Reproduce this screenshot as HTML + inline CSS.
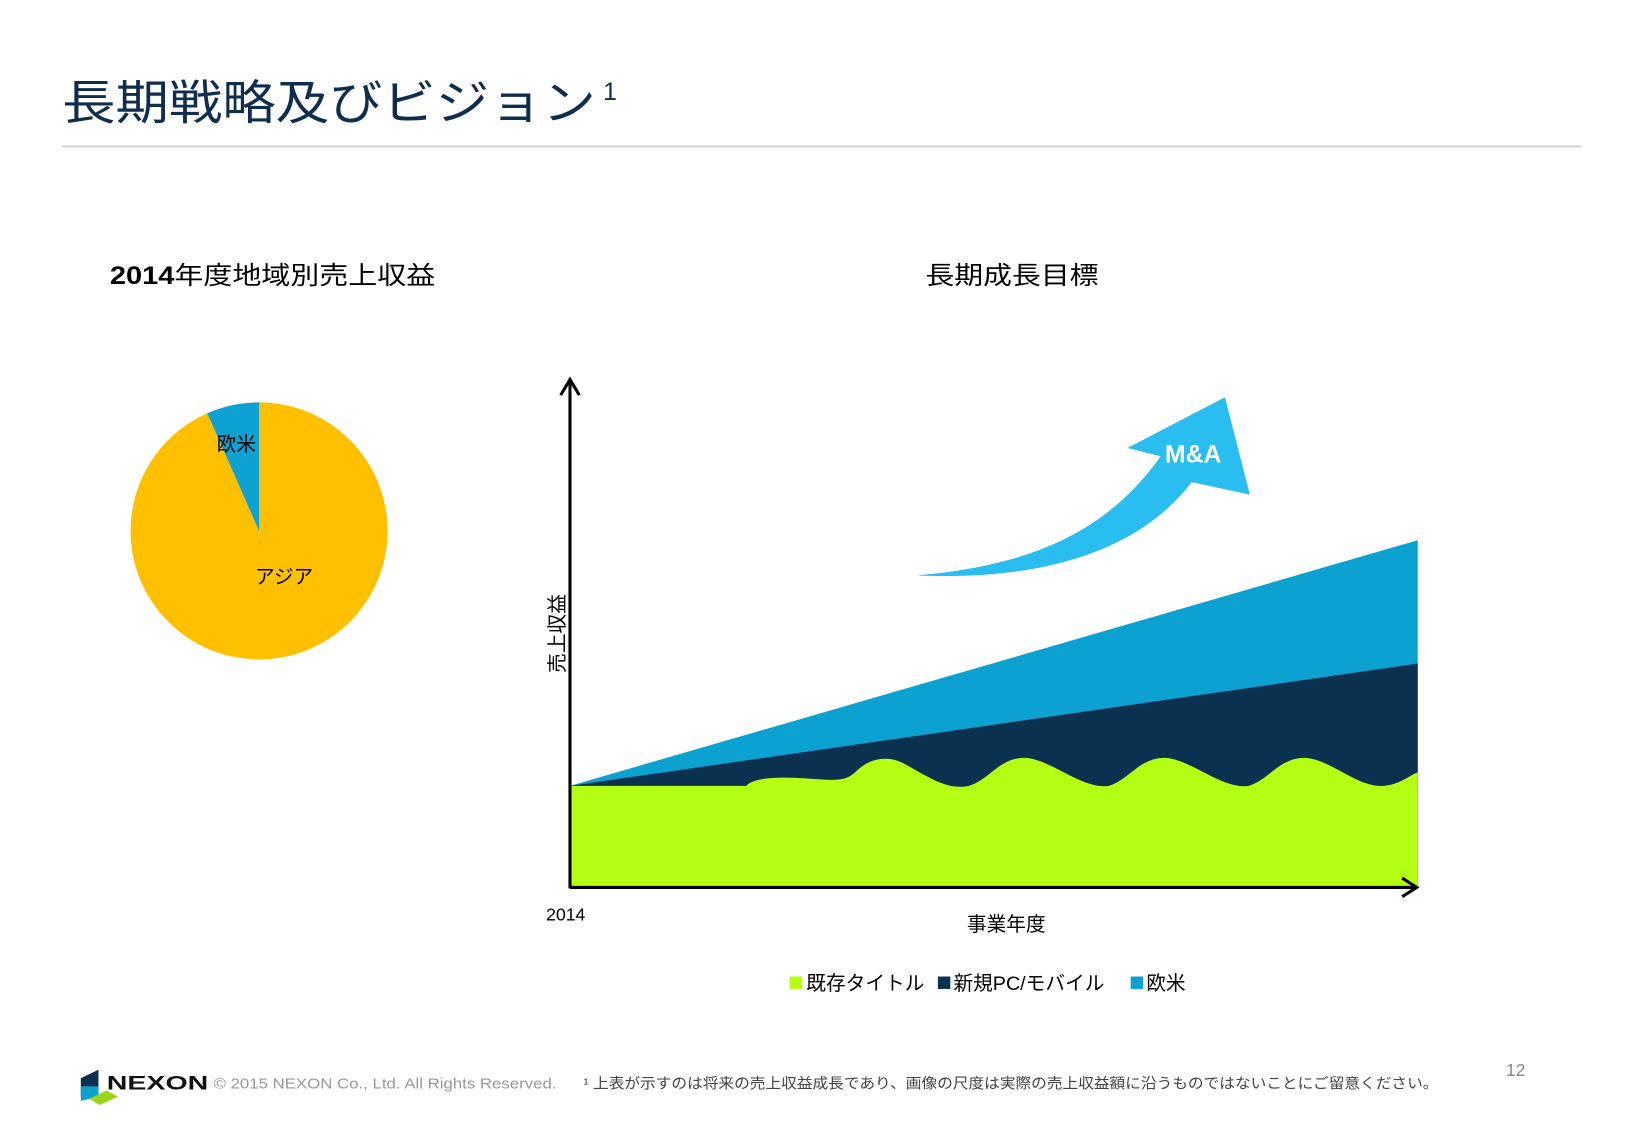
<!DOCTYPE html>
<html><head><meta charset="utf-8"><style>
html,body{margin:0;padding:0;background:#fff;}
svg{display:block;font-family:"Liberation Sans","Noto Sans CJK JP",sans-serif;}
</style></head><body>
<svg width="1625" height="1125" viewBox="0 0 1568 1085" xmlns="http://www.w3.org/2000/svg">
<text x="60" y="115" font-size="46" fill="#0f2d4d" textLength="515" lengthAdjust="spacingAndGlyphs">長期戦略及びビジョン</text>
<text x="582" y="96" font-size="24" fill="#0f2d4d">1</text>
<rect x="60" y="140" width="1466" height="2" fill="#d4d4d4"/>
<text x="106" y="274" font-size="24" fill="#000" textLength="314" lengthAdjust="spacingAndGlyphs"><tspan font-weight="bold">2014</tspan>年度地域別売上収益</text>
<text x="893" y="274" font-size="24" fill="#000" textLength="167" lengthAdjust="spacingAndGlyphs">長期成長目標</text>
<circle cx="250" cy="512" r="124" fill="#FFC000"/>
<path d="M250,512 L250,388 A124,124 0 0,0 200,398.5 Z" fill="#0ea2d3"/>
<text x="209" y="435" font-size="19">欧米</text>
<text x="246" y="563" font-size="19">アジア</text>
<polygon points="550,758 1368,521 1368,857 550,857" fill="#0ba2d2"/>
<polygon points="550,758 1368,640 1368,857 550,857" fill="#0b3150"/>
<path d="M550,758 L720,758 C730,748 760,750 780,751 C800,752 815,755 825,745 C840,730 858,728 875,738 C900,752 915,762 935,758 C955,752 965,730 990,731 C1015,733 1045,762 1070,758 C1090,752 1100,730 1125,731 C1150,733 1180,762 1205,758 C1225,752 1235,730 1260,731 C1285,733 1310,760 1335,758 C1350,757 1360,748 1368,745 L1368,857 L550,857 Z" fill="#b5ff14"/>
<path d="M550,857 L550,368 M541,381 L550,366 L559,381" stroke="#000" stroke-width="3" fill="none"/>
<path d="M550,856 L1366,856 M1353,847 L1367,856 L1353,865" stroke="#000" stroke-width="3" fill="none"/>
<path d="M885,555 C1000,545 1070,510 1120,440 L1088,432 L1182,383 L1206,477 L1150,465 C1100,530 1010,560 885,555 Z" fill="#29bdf0"/>
<text x="1124" y="446" font-size="24" font-weight="bold" fill="#fff">M&amp;A</text>
<text transform="translate(544,611) rotate(-90)" text-anchor="middle" font-size="19">売上収益</text>
<text x="527" y="888" font-size="17">2014</text>
<text x="933" y="898" font-size="19">事業年度</text>
<rect x="762" y="942" width="12" height="12" fill="#b5ff14"/>
<text x="778" y="955" font-size="19">既存タイトル</text>
<rect x="905" y="942" width="12" height="12" fill="#0b3150"/>
<text x="920" y="955" font-size="19">新規PC/モバイル</text>
<rect x="1091" y="942" width="12" height="12" fill="#0ba2d2"/>
<text x="1106" y="955" font-size="19">欧米</text>
<polygon points="78,1040 95,1032 95,1058 78,1058" fill="#0b3150"/>
<polygon points="78,1048 95,1048 95,1058 78,1062" fill="#0ba2d2"/>
<polygon points="86,1060 103,1052 114,1058 96,1066" fill="#9ad61e"/>
<text x="103" y="1051" font-size="19" font-weight="bold" fill="#111" textLength="98" lengthAdjust="spacingAndGlyphs">NEXON</text>
<text x="206" y="1050" font-size="14" fill="#999" textLength="331" lengthAdjust="spacingAndGlyphs">© 2015 NEXON Co., Ltd. All Rights Reserved.</text>
<text x="563" y="1050" font-size="14" fill="#444" textLength="825" lengthAdjust="spacingAndGlyphs">¹ 上表が示すのは将来の売上収益成長であり、画像の尺度は実際の売上収益額に沿うものではないことにご留意ください。</text>
<text x="1453" y="1038" font-size="17" fill="#888">12</text>
</svg>
</body></html>
